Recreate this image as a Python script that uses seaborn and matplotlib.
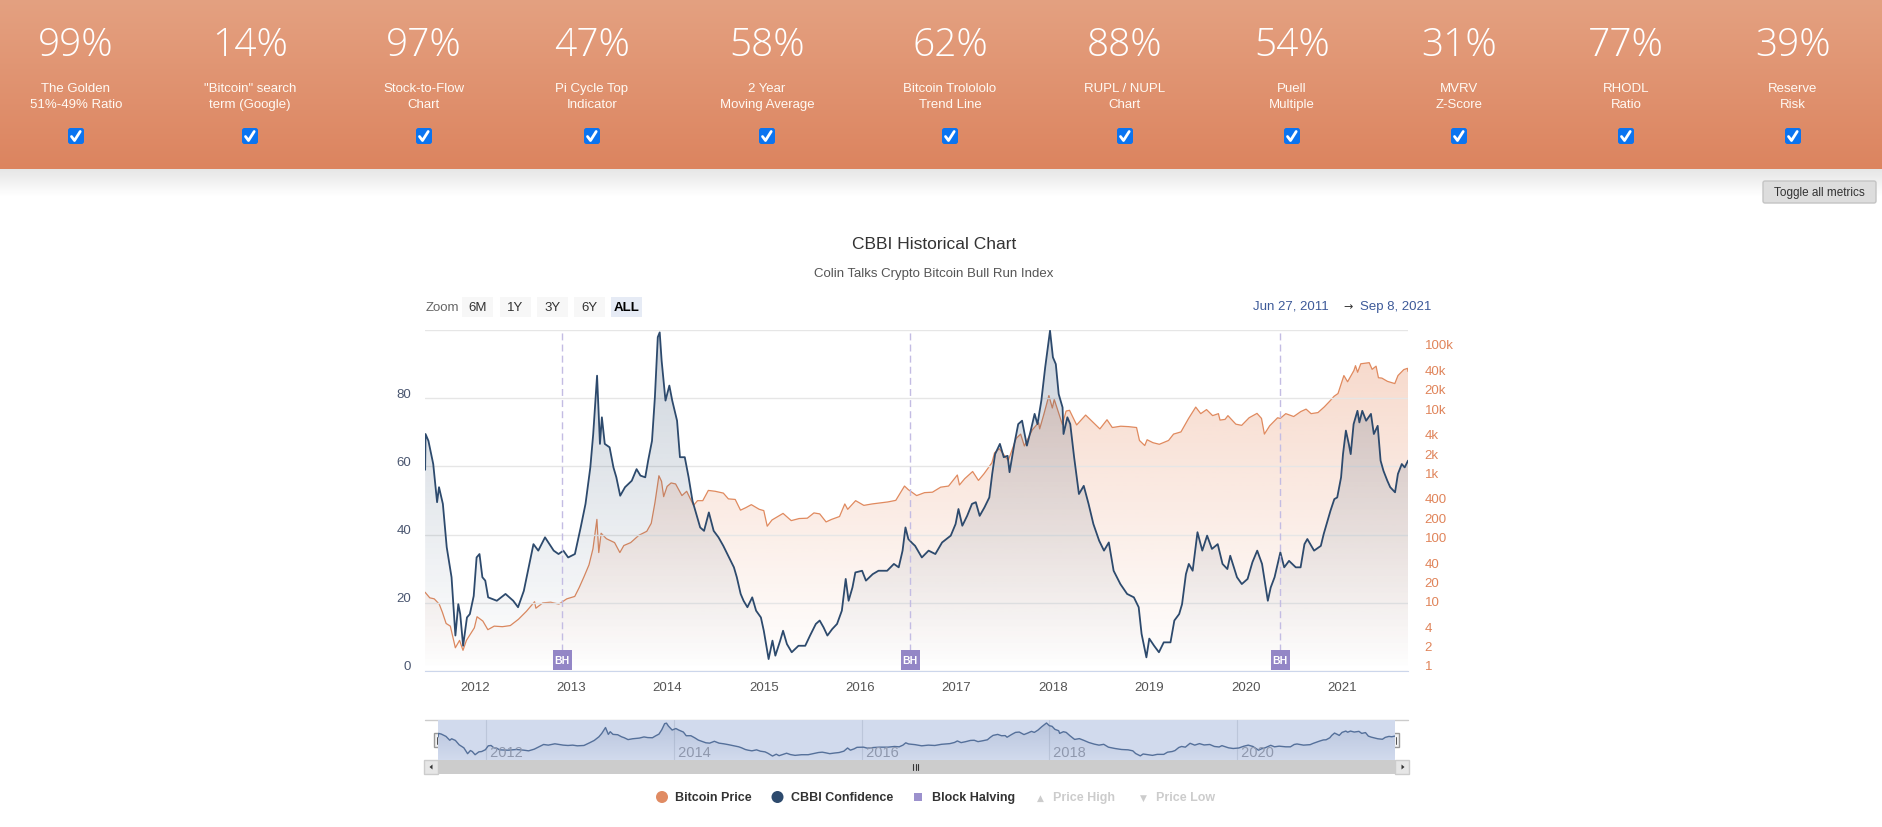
import numpy as np
import pandas as pd
import matplotlib
matplotlib.use('Agg')
import matplotlib.pyplot as plt
import matplotlib.colors as mcolors
from matplotlib.patches import Rectangle, FancyBboxPatch, Circle, Polygon
from matplotlib.transforms import blended_transform_factory, ScaledTranslation
import seaborn as sns

sns.set_style('white')
NARROW = ['Liberation Sans Narrow', 'Liberation Sans', 'DejaVu Sans']
plt.rcParams['font.family'] = NARROW

# --- données ---------------------------------------------------------------
metric_pct = [99, 14, 97, 47, 58, 62, 88, 54, 31, 77, 39]
metric_label = ['The Golden\n51%-49% Ratio', '"Bitcoin" search\nterm (Google)',
                'Stock-to-Flow\nChart', 'Pi Cycle Top\nIndicator',
                '2 Year\nMoving Average', 'Bitcoin Trolololo\nTrend Line',
                'RUPL / NUPL\nChart', 'Puell\nMultiple', 'MVRV\nZ-Score',
                'RHODL\nRatio', 'Reserve\nRisk']

# CBBI confidence (année décimale, valeur)
cbbi_year = [2011.486, 2011.49, 2011.52, 2011.57, 2011.61, 2011.63, 2011.67, 2011.71, 2011.76, 2011.80,
             2011.83, 2011.85, 2011.88, 2011.92, 2011.95, 2011.99, 2012.02, 2012.05, 2012.08, 2012.11,
             2012.14, 2012.23, 2012.32, 2012.40, 2012.45, 2012.51, 2012.56, 2012.61, 2012.66, 2012.73,
             2012.82, 2012.87, 2012.92, 2012.97, 2013.04, 2013.10, 2013.15, 2013.20, 2013.23, 2013.27,
             2013.30, 2013.32, 2013.35, 2013.40, 2013.44, 2013.47, 2013.51, 2013.56, 2013.63, 2013.68,
             2013.72, 2013.77, 2013.80, 2013.84, 2013.87, 2013.90, 2013.92, 2013.94, 2013.98, 2014.02,
             2014.05, 2014.10, 2014.13, 2014.18, 2014.22, 2014.26, 2014.29, 2014.34, 2014.38, 2014.43,
             2014.48, 2014.53, 2014.58, 2014.64, 2014.69, 2014.72, 2014.76, 2014.79, 2014.83, 2014.88,
             2014.92, 2014.97, 2015.00, 2015.05, 2015.09, 2015.12, 2015.17, 2015.20, 2015.24, 2015.29,
             2015.36, 2015.43, 2015.48, 2015.54, 2015.58, 2015.62, 2015.66, 2015.71, 2015.76, 2015.81,
             2015.85, 2015.88, 2015.92, 2015.95, 2016.02, 2016.06, 2016.13, 2016.19, 2016.28, 2016.35,
             2016.40, 2016.44, 2016.47, 2016.50, 2016.54, 2016.57, 2016.64, 2016.71, 2016.78, 2016.85,
             2016.94, 2016.99, 2017.02, 2017.06, 2017.11, 2017.16, 2017.20, 2017.24, 2017.29, 2017.34,
             2017.37, 2017.40, 2017.45, 2017.49, 2017.53, 2017.55, 2017.60, 2017.64, 2017.68, 2017.73,
             2017.77, 2017.81, 2017.84, 2017.88, 2017.92, 2017.97, 2018.00, 2018.03, 2018.06, 2018.10,
             2018.11, 2018.15, 2018.18, 2018.22, 2018.27, 2018.32, 2018.37, 2018.42, 2018.48, 2018.53,
             2018.58, 2018.63, 2018.70, 2018.77, 2018.84, 2018.89, 2018.92, 2018.97, 2019.00, 2019.05,
             2019.10, 2019.15, 2019.22, 2019.26, 2019.31, 2019.34, 2019.38, 2019.41, 2019.45, 2019.50,
             2019.55, 2019.60, 2019.65, 2019.71, 2019.76, 2019.81, 2019.84, 2019.91, 2019.96, 2020.02,
             2020.07, 2020.12, 2020.17, 2020.23, 2020.26, 2020.30, 2020.36, 2020.40, 2020.45, 2020.52,
             2020.57, 2020.61, 2020.64, 2020.71, 2020.78, 2020.81, 2020.85, 2020.88, 2020.92, 2020.95,
             2020.99, 2021.01, 2021.04, 2021.07, 2021.09, 2021.12, 2021.16, 2021.18, 2021.21, 2021.25,
             2021.30, 2021.33, 2021.37, 2021.40, 2021.43, 2021.47, 2021.50, 2021.55, 2021.58, 2021.62,
             2021.65, 2021.685]
cbbi_value = [59, 69.5, 67.5, 60.7, 49.5, 53.9, 49, 36.3, 27.5, 10.4,
              19.6, 16.7, 7.4, 15.7, 16.7, 22, 33.3, 34.3, 27.5, 26.5,
              21.6, 20.6, 22.6, 20.6, 18.7, 23.5, 30.4, 37.2, 35.3, 39.2,
              35.3, 34.3, 35.3, 33.3, 34.3, 42.1, 49, 59.7, 69.5, 86.6,
              66.6, 74.4, 66.6, 65.6, 59.7, 56.8, 51.4, 53.9, 55.8, 59.2,
              57.3, 56.8, 61.7, 67.5, 80.3, 97.9, 99.3, 91, 79.3, 83.7,
              79.3, 73.4, 62.7, 62.7, 56.8, 49.9, 47, 42.1, 41.1, 46.5,
              41.1, 39.2, 36.7, 33.3, 30.4, 27.5, 22.6, 20.6, 18.7, 21.6,
              17.7, 15.7, 11.8, 3.5, 8.9, 4.5, 8.9, 11.8, 7.9, 5.5,
              7.4, 7.4, 10.4, 13.8, 14.8, 12.8, 10.4, 12.3, 13.8, 17.7,
              27, 20.6, 24.5, 28.9, 29.4, 26.5, 28.4, 29.4, 29.4, 31.4,
              30.4, 35.3, 42.1, 38.7, 37.5, 36.7, 33.3, 35.3, 34.3, 37.7,
              39.7, 43.1, 47.5, 42.6, 45.5, 49, 49.5, 45.5, 48, 50.9,
              57.8, 63.6, 66.6, 62.7, 63.1, 58.3, 66.6, 72.4, 73.4, 66.1,
              70.5, 75.4, 72.4, 79.3, 89.1, 99.8, 92, 90, 81.2, 77.3,
              69.5, 74.4, 72.4, 62.7, 51.9, 54.3, 49, 43.1, 38.2, 35.3,
              37.7, 29.4, 25.5, 22.6, 21.6, 18.7, 10.9, 4, 9.5, 7.4,
              5.5, 8.4, 8.4, 14.8, 16.7, 19.6, 28.4, 31.4, 29.4, 40.7,
              35.3, 39.7, 35.8, 37.2, 31.4, 29.9, 33.8, 27.5, 25.5, 27,
              31.9, 35.3, 31.4, 20.6, 24.5, 27.5, 34.8, 30.4, 32.3, 30.4,
              30.4, 37.2, 38.7, 35.3, 36.7, 40.2, 44.1, 47, 50.4, 50.9,
              56.8, 63.6, 70.5, 66.6, 63.6, 72.4, 76.3, 72.9, 76.3, 73.4,
              75.4, 69.5, 71.9, 61.7, 58.7, 55.8, 53.9, 52.4, 57.8, 60.7,
              59.7, 61.7]

# Prix du Bitcoin (USD)
price_date = ['2011-06-27', '2011-07-15', '2011-08-01', '2011-08-20', '2011-09-01', '2011-09-15',
              '2011-10-01', '2011-10-20', '2011-11-05', '2011-11-18', '2011-12-01', '2011-12-31',
              '2012-01-10', '2012-02-01', '2012-02-20', '2012-03-15', '2012-04-15', '2012-05-15',
              '2012-06-15', '2012-07-15', '2012-08-15', '2012-08-20', '2012-09-15', '2012-10-15',
              '2012-11-15', '2012-12-15', '2013-01-15', '2013-02-01', '2013-02-20', '2013-03-10',
              '2013-03-25', '2013-04-09', '2013-04-16', '2013-04-25', '2013-05-15', '2013-06-15',
              '2013-07-05', '2013-07-20', '2013-08-15', '2013-09-15', '2013-10-15', '2013-11-01',
              '2013-11-15', '2013-11-30', '2013-12-10', '2013-12-18', '2013-12-31', '2014-01-15',
              '2014-02-01', '2014-02-25', '2014-03-15', '2014-04-10', '2014-04-25', '2014-05-15',
              '2014-06-05', '2014-07-01', '2014-08-01', '2014-08-20', '2014-09-15', '2014-10-05',
              '2014-10-25', '2014-11-15', '2014-12-15', '2015-01-01', '2015-01-14', '2015-02-01',
              '2015-03-15', '2015-04-15', '2015-05-15', '2015-06-15', '2015-07-10', '2015-08-01',
              '2015-08-25', '2015-09-15', '2015-10-15', '2015-11-04', '2015-11-15', '2015-12-15',
              '2016-01-15', '2016-02-15', '2016-03-15', '2016-04-15', '2016-05-15', '2016-06-17',
              '2016-07-01', '2016-08-02', '2016-09-01', '2016-10-01', '2016-11-01', '2016-12-01',
              '2017-01-04', '2017-01-12', '2017-02-01', '2017-03-03', '2017-03-25', '2017-04-15',
              '2017-05-15', '2017-05-25', '2017-06-12', '2017-07-16', '2017-08-15', '2017-09-01',
              '2017-09-15', '2017-10-15', '2017-11-08', '2017-11-12', '2017-11-28', '2017-12-17',
              '2017-12-30', '2018-01-06', '2018-02-06', '2018-02-20', '2018-03-05', '2018-04-01',
              '2018-05-05', '2018-06-28', '2018-07-25', '2018-08-14', '2018-09-15', '2018-10-15',
              '2018-11-14', '2018-11-25', '2018-12-15', '2018-12-24', '2019-01-15', '2019-02-08',
              '2019-03-15', '2019-04-03', '2019-05-01', '2019-05-30', '2019-06-26', '2019-07-15',
              '2019-08-06', '2019-08-29', '2019-09-20', '2019-09-26', '2019-10-15', '2019-10-26',
              '2019-11-25', '2019-12-17', '2020-01-14', '2020-02-13', '2020-03-01', '2020-03-12',
              '2020-04-01', '2020-05-01', '2020-05-11', '2020-06-01', '2020-07-01', '2020-07-28',
              '2020-08-17', '2020-09-05', '2020-10-01', '2020-10-25', '2020-11-15', '2020-12-01',
              '2020-12-16', '2021-01-08', '2021-01-22', '2021-02-15', '2021-02-21', '2021-03-01',
              '2021-03-13', '2021-04-14', '2021-04-25', '2021-05-10', '2021-05-19', '2021-06-01',
              '2021-06-22', '2021-07-20', '2021-08-01', '2021-08-23', '2021-09-06', '2021-09-08']
price_usd = [16.9, 13.8, 13.3, 11, 8.2, 5.5,
             5.0, 2.3, 3.0, 2.1, 3.0, 4.7,
             7.0, 6.0, 4.4, 5.0, 4.9, 5.1,
             6.4, 8.5, 12, 9.5, 11.5, 11.8,
             11.0, 13.3, 14.5, 20, 30, 45,
             80, 230, 70, 140, 115, 100,
             70, 90, 100, 130, 150, 200,
             420, 1100, 900, 520, 750, 850,
             820, 540, 630, 380, 450, 450,
             650, 630, 590, 480, 470, 320,
             350, 390, 330, 315, 180, 225,
             285, 220, 237, 240, 290, 280,
             210, 230, 255, 400, 330, 450,
             380, 400, 415, 430, 455, 760,
             670, 540, 600, 610, 730, 760,
             1130, 790, 990, 1280, 930, 1180,
             1750, 2500, 2900, 1900, 4200, 4900,
             3200, 5700, 7400, 5900, 10000, 19500,
             12500, 17000, 6900, 11200, 11500, 6800,
             9700, 5900, 8200, 6200, 6500, 6400,
             6200, 3900, 3250, 4000, 3600, 3400,
             3900, 4900, 5300, 8600, 12900, 10200,
             11800, 9500, 10200, 8100, 8300, 9500,
             7000, 6700, 8800, 10300, 8600, 4900,
             6600, 8800, 8600, 10200, 9200, 11000,
             12000, 10200, 10600, 13000, 16000, 19000,
             21000, 40000, 32000, 48000, 57000, 45000,
             61000, 63500, 50000, 56000, 37000, 36500,
             32500, 30000, 40000, 49500, 51800, 46300]

halving_dates = ['2012-11-28', '2016-07-09', '2020-05-11']
year_ticks = list(range(2012, 2022))
nav_year_ticks = [2012, 2014, 2016, 2018, 2020]
cbbi_ticks = [0, 20, 40, 60, 80, 100]
price_ticks = [1, 2, 4, 10, 20, 40, 100, 200, 400, 1000, 2000, 4000, 10000, 20000, 40000, 100000]
price_tick_labels = ['1', '2', '4', '10', '20', '40', '100', '200', '400',
                     '1k', '2k', '4k', '10k', '20k', '40k', '100k']
zoom_buttons = ['6M', '1Y', '3Y', '6Y', 'ALL']

# --- mise en page (pixels) -------------------------------------------------
W, H = 1883, 828
col_x = [76, 250, 424, 592, 767, 950, 1125, 1292, 1459, 1626, 1793]
ORANGE = '#e08a5f'
NAVY = '#2d4a6d'
PURPLE = '#9386c6'


def to_year(dates):
    d = pd.to_datetime(pd.Series(dates))
    return (d.dt.year + (d.dt.dayofyear - 1) / 365.25).to_numpy()


def px_rect(x0, y0, x1, y1):
    return [x0 / W, 1 - y1 / H, (x1 - x0) / W, (y1 - y0) / H]


def grad_fill(axis, x, y, base, color, a_top, a_bot=0.0, z=1):
    poly = axis.fill_between(x, base, y, facecolor='none', edgecolor='none')
    rgba = np.zeros((256, 1, 4))
    rgba[..., :3] = mcolors.to_rgb(color)
    rgba[:, 0, 3] = np.linspace(a_top, a_bot, 256)
    im = axis.imshow(rgba, extent=[0, 1, 0, 1], transform=axis.transAxes, aspect='auto',
                     origin='upper', zorder=z, interpolation='bilinear')
    im.set_clip_path(poly.get_paths()[0], transform=axis.transData)


fig = plt.figure(figsize=(W / 100, H / 100), dpi=100)
bg = fig.add_axes([0, 0, 1, 1])
bg.axis('off')

# bandeau orange
top_c = np.array(mcolors.to_rgb('#e4a181'))
bot_c = np.array(mcolors.to_rgb('#dc845f'))
band = top_c + (bot_c - top_c) * np.linspace(0, 1, 256)[:, None, None]
bg.imshow(band, extent=[0, W, 170, 0], aspect='auto', zorder=0)
shadow = np.zeros((64, 1, 4))
shadow[..., :3] = 0.86
shadow[:, 0, 3] = np.linspace(0.7, 0, 64)
bg.imshow(shadow, extent=[0, W, 197, 170], aspect='auto', zorder=0)

for x, p, lab in zip(col_x, metric_pct, metric_label):
    bg.text(x, 46, f'{p}%', ha='center', va='center', fontsize=28, color='white',
            family=['Open Sans', 'Lato', 'DejaVu Sans'], fontweight='light')
    bg.text(x, 97, lab, ha='center', va='center', fontsize=9.5, color='#fffaf4', linespacing=1.55)
    bg.add_patch(FancyBboxPatch((x - 8, 129), 16, 16, boxstyle='round,pad=0,rounding_size=2.5',
                                fc='#0b74f0', ec='none', zorder=2))
    bg.plot([x - 4.5, x - 1.5, x + 4.2], [137.5, 141.5, 132.5], color='white', lw=2, zorder=3,
            solid_capstyle='round')

bg.add_patch(FancyBboxPatch((1763, 182), 113, 22, boxstyle='round,pad=0,rounding_size=2',
                            fc='#dddddd', ec='#c4c4c4', lw=1))
bg.text(1819.5, 193, 'Toggle all metrics', ha='center', va='center', fontsize=8.5, color='#333333')

# titres
bg.text(934, 245, 'CBBI Historical Chart', ha='center', va='center', fontsize=12.5, color='#333333')
bg.text(934, 274, 'Colin Talks Crypto Bitcoin Bull Run Index', ha='center', va='center',
        fontsize=9.5, color='#555555')

# boutons de zoom
bg.text(442, 308, 'Zoom', ha='center', va='center', fontsize=9.5, color='#666666')
btn_x = [462, 500, 537, 574, 611]
for bx, lab in zip(btn_x, zoom_buttons):
    sel = lab == 'ALL'
    bg.add_patch(Rectangle((bx, 298), 31, 20, fc='#e6ebf5' if sel else '#f7f7f7', ec='none'))
    bg.text(bx + 15.5, 308.5, lab, ha='center', va='center', fontsize=9.5,
            color='black' if sel else '#333333', fontweight='bold' if sel else 'normal')

d0, d1 = pd.to_datetime(price_date[0]), pd.to_datetime(price_date[-1])
bg.text(1291, 307, f'{d0:%b} {d0.day}, {d0.year}', ha='center', va='center', fontsize=9.5,
        color='#3d5a99', family=['Liberation Sans', 'DejaVu Sans'])
bg.text(1348, 307, '\u2192', ha='center', va='center', fontsize=8, color='#333333',
        family=['DejaVu Sans'])
bg.text(1396, 307, f'{d1:%b} {d1.day}, {d1.year}', ha='center', va='center', fontsize=9.5,
        color='#3d5a99', family=['Liberation Sans', 'DejaVu Sans'])

# --- graphique principal -----------------------------------------------------
x_price = to_year(price_date)
x_cbbi = np.array(cbbi_year)
x_min, x_max = x_price.min(), x_price.max()

ax = fig.add_axes(px_rect(425, 331, 1408, 672))
ax2 = ax.twinx()
ax.set_zorder(ax2.get_zorder() + 1)
ax.patch.set_visible(False)

ax2.set_yscale('log')
ax2.set_xlim(x_min, x_max)
ax2.set_ylim(1, 10 ** (341 / 64.2))
ax2.set_autoscale_on(False)
ax.set_xlim(x_min, x_max)
ax.set_ylim(0, 100)
ax.set_autoscale_on(False)

grad_fill(ax2, x_price, price_usd, 1, '#e6885c', 0.34)
sns.lineplot(x=x_price, y=price_usd, ax=ax2, color=ORANGE, lw=0.9, sort=False, estimator=None)
grad_fill(ax, x_cbbi, cbbi_value, 0, NAVY, 0.24)
sns.lineplot(x=x_cbbi, y=cbbi_value, ax=ax, color=NAVY, lw=1.3, sort=False, estimator=None)

# halvings
hx = to_year(halving_dates)
blend = blended_transform_factory(ax.transData, ax.transAxes)
w_year = 19 / 983 * (x_max - x_min)
for h in hx:
    ax.axvline(h, ymin=20 / 341, ymax=1, color='#c3bce3', lw=1, ls=(0, (5, 3)), zorder=4)
    ax.add_patch(Rectangle((h - w_year / 2, 0.003), w_year, 20 / 341, transform=blend,
                           fc=PURPLE, ec='none', zorder=5))
    ax.text(h, 10.5 / 341, 'BH', transform=blend, ha='center', va='center', fontsize=7.5,
            color='white', fontweight='bold', zorder=6)

for s in ['top', 'left', 'right']:
    ax.spines[s].set_visible(False)
    ax2.spines[s].set_visible(False)
ax.spines['bottom'].set_color('#ccd6eb')
ax2.spines['bottom'].set_visible(False)

ax.set_yticks(cbbi_ticks)
ax.set_yticklabels([str(t) if t < 100 else '' for t in cbbi_ticks])
ax.grid(axis='y', color='#e6e6e6', lw=1)
ax.grid(axis='x', visible=False)
ax.set_axisbelow(True)
ax.tick_params(axis='y', length=0, labelsize=9.5, labelcolor='#4a5670', pad=10)
ax.set_xticks(year_ticks)
ax.set_xticklabels([str(y) for y in year_ticks])
ax.tick_params(axis='x', length=6, width=1, color='#ccd6eb', labelsize=9.5, labelcolor='#555555', pad=1.5)
ax.set_xlabel('')
ax.set_ylabel('')

ax2.set_yticks(price_ticks)
ax2.set_yticklabels(price_tick_labels)
ax2.yaxis.set_minor_locator(matplotlib.ticker.NullLocator())
ax2.tick_params(axis='y', length=0, labelsize=9.5, labelcolor='#e0845a', pad=12)
ax2.set_ylabel('')
ax2.grid(False)

up = ScaledTranslation(0, 6 / 100, fig.dpi_scale_trans)
for lab in ax.get_yticklabels() + ax2.get_yticklabels():
    lab.set_transform(lab.get_transform() + up)

# --- navigateur ---------------------------------------------------------------
bg.plot([425, 1408], [721, 721], color='#cccccc', lw=1)
nav = fig.add_axes(px_rect(438, 721, 1395, 761))
nav.set_facecolor('#d1daed')
nav.set_xlim(x_min, x_max)
nav.set_ylim(-8, 108.5)
nav.set_autoscale_on(False)
for yr in nav_year_ticks:
    nav.axvline(yr, color='#bcc6da', lw=0.8, zorder=0.5)
    nav.text(yr, 0.2, f' {yr}', transform=blended_transform_factory(nav.transData, nav.transAxes),
             ha='left', va='center', fontsize=10.5, color='#8f98ad')
grad_fill(nav, x_cbbi, cbbi_value, -8, '#5a73a0', 0.22)
sns.lineplot(x=x_cbbi, y=cbbi_value, ax=nav, color='#55709a', lw=1, sort=False, estimator=None)
nav.set_xticks([])
nav.set_yticks([])
nav.set_xlabel('')
nav.set_ylabel('')
for s in nav.spines.values():
    s.set_visible(False)

for hxp in [438, 1395]:
    bg.add_patch(Rectangle((hxp - 4, 734), 8, 14, fc='#f2f2f2', ec='#999999', lw=1, zorder=5))
    bg.plot([hxp - 1.2, hxp - 1.2], [737.5, 744.5], color='#333333', lw=0.6, zorder=6)
    bg.plot([hxp + 1.2, hxp + 1.2], [737.5, 744.5], color='#333333', lw=0.6, zorder=6)

# barre de défilement
bg.add_patch(Rectangle((424, 761), 985, 14, fc='#cccccc', ec='none'))
bg.add_patch(Rectangle((424, 761), 14, 14, fc='#e6e6e6', ec='#cccccc', lw=1))
bg.add_patch(Rectangle((1395, 761), 14, 14, fc='#e6e6e6', ec='#cccccc', lw=1))
bg.add_patch(Polygon([(429.5, 768), (432.5, 765.5), (432.5, 770.5)], fc='#333333', ec='none'))
bg.add_patch(Polygon([(1404.5, 768), (1401.5, 765.5), (1401.5, 770.5)], fc='#333333', ec='none'))
for gx in [913.5, 916, 918.5]:
    bg.plot([gx, gx], [765, 771], color='#333333', lw=0.8)

# --- légende ----------------------------------------------------------------
ly = 798
bg.add_patch(Circle((662, ly), 6, fc='#e08b63', ec='none'))
bg.text(675.5, ly, 'Bitcoin Price', ha='left', va='center', fontsize=9, fontweight='bold', color='#333333')
bg.add_patch(Circle((777.5, ly), 6, fc=NAVY, ec='none'))
bg.text(791.5, ly, 'CBBI Confidence', ha='left', va='center', fontsize=9, fontweight='bold', color='#333333')
bg.add_patch(Rectangle((914.5, ly - 4), 8, 8, fc='#9c91cd', ec='none'))
bg.text(932, ly, 'Block Halving', ha='left', va='center', fontsize=9, fontweight='bold', color='#333333')
bg.text(1040.5, ly, '\u25b2', ha='center', va='center', fontsize=6.5, color='#cccccc', family=['DejaVu Sans'])
bg.text(1053.5, ly, 'Price High', ha='left', va='center', fontsize=9, fontweight='bold', color='#cccccc')
bg.text(1143.5, ly, '\u25bc', ha='center', va='center', fontsize=6.5, color='#cccccc', family=['DejaVu Sans'])
bg.text(1156, ly, 'Price Low', ha='left', va='center', fontsize=9, fontweight='bold', color='#cccccc')

bg.set_xlim(0, W)
bg.set_ylim(H, 0)

fig.savefig('out.png', dpi=100)
